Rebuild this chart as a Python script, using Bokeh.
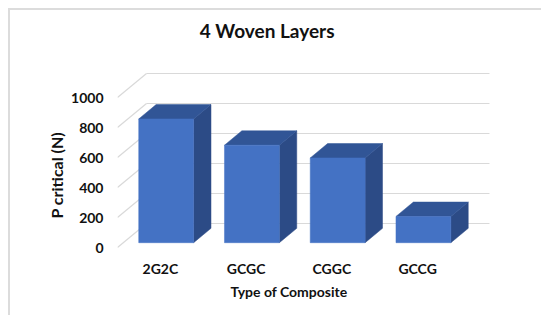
from bokeh.plotting import figure
from bokeh.models import ColumnDataSource, Range1d, FixedTicker, Title, Label
from bokeh.embed import file_html
from bokeh.resources import INLINE

# ---- data ----
categories = ["2G2C", "GCGC", "CGGC", "GCCG"]
p_critical = [825, 650, 565, 175]
y_ticks = [0, 200, 400, 600, 800, 1000]
title_text = "4 Woven Layers"
x_title = "Type of Composite"
y_title = "P critical (N)"

# ---- 3D projection constants (data units) ----
DX = 0.338      # full depth shift along x (category units)
DY = 160.0      # full depth shift along y (value units)
BAR_W = 0.64
F0, F1 = 0.2, 0.8  # bar front / back depth fractions

FONT = "Lato"
TXT = "#111111"

p = figure(width=533, height=307, output_backend="svg", toolbar_location=None,
           x_range=Range1d(0, 4.4665), y_range=Range1d(-40, 1580),
           min_border_left=107, min_border_right=43, min_border_top=0,
           min_border_bottom=64)
p.styles = {"margin-left": "8px", "margin-top": "8px",
            "border-left": "2px solid #dcdcdc", "border-top": "2px solid #dcdcdc"}
p.outline_line_color = None
p.xgrid.grid_line_color = None
p.ygrid.grid_line_color = None
p.background_fill_color = "white"
p.border_fill_color = "white"

# chart title (inside the drawing area, left-of-centre like the original)
p.add_layout(Label(x=1.746, y=1445, text=title_text, text_align="center",
                   text_baseline="middle", text_font=FONT, text_font_size="19px",
                   text_font_style="bold", text_color=TXT))

# back wall gridlines and side-wall diagonals
n = len(categories)
p.segment(x0=[DX] * len(y_ticks), y0=[v + DY for v in y_ticks],
          x1=[n + DX] * len(y_ticks), y1=[v + DY for v in y_ticks],
          line_color="#d9d9d9", line_width=1.2)
p.segment(x0=[0] * len(y_ticks), y0=y_ticks,
          x1=[DX] * len(y_ticks), y1=[v + DY for v in y_ticks],
          line_color="#d9d9d9", line_width=1.2)

# bars as three faces
fx, fy, tx, ty, sx, sy = [], [], [], [], [], []
for i, v in enumerate(p_critical):
    cx = i + 0.5 + F0 * DX
    l, r = cx - BAR_W / 2, cx + BAR_W / 2
    b, t = F0 * DY, v + F0 * DY
    dx, dy = (F1 - F0) * DX, (F1 - F0) * DY
    fx.append([l, r, r, l]); fy.append([b, b, t, t])
    tx.append([l, r, r + dx, l + dx]); ty.append([t, t, t + dy, t + dy])
    sx.append([r, r + dx, r + dx, r]); sy.append([b, b + dy, t + dy, t])

p.patches(xs="xs", ys="ys", source=ColumnDataSource(dict(xs=sx, ys=sy)),
          fill_color="#2c4b86", line_color="#2c4b86", line_width=0.5)
p.patches(xs="xs", ys="ys", source=ColumnDataSource(dict(xs=tx, ys=ty)),
          fill_color="#315596", line_color="#315596", line_width=0.5)
p.patches(xs="xs", ys="ys", source=ColumnDataSource(dict(xs=fx, ys=fy)),
          fill_color="#4472c4", line_color="#4472c4", line_width=0.5)

# axes
p.yaxis.ticker = FixedTicker(ticks=y_ticks)
p.yaxis.major_label_standoff = 14

p.xaxis.ticker = FixedTicker(ticks=[i + 0.5 for i in range(n)])
p.xaxis.major_label_overrides = {i + 0.5: c for i, c in enumerate(categories)}
p.xaxis.major_label_standoff = 6

for ax in (p.xaxis[0], p.yaxis[0]):
    ax.axis_line_color = None
    ax.major_tick_line_color = None
    ax.minor_tick_line_color = None
    ax.major_tick_out = 0
    ax.major_tick_in = 0
    ax.major_label_text_font = FONT
    ax.major_label_text_font_size = "14px"
    ax.major_label_text_font_style = "bold"
    ax.major_label_text_color = TXT

p.add_layout(Title(text=y_title, align="left", offset=35, standoff=6,
                   text_font=FONT, text_font_size="16px", text_font_style="bold",
                   text_color=TXT), "left")
p.add_layout(Title(text=x_title, align="left", offset=113, standoff=3,
                   text_font=FONT, text_font_size="14px", text_font_style="bold",
                   text_color=TXT), "below")

open("out.html", "w").write(file_html(p, INLINE))
